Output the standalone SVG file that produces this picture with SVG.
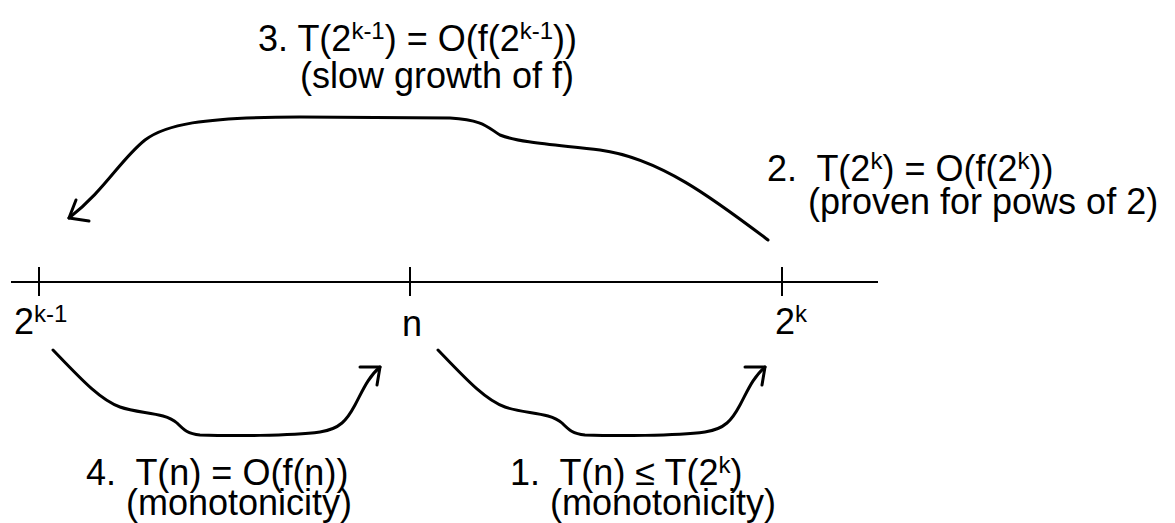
<svg xmlns="http://www.w3.org/2000/svg" width="1175" height="523" viewBox="0 0 1175 523">
<style>
text{font-family:"Liberation Sans",Arial,sans-serif;font-size:36px;fill:#000;white-space:pre}
.sup{font-size:24px}
.ln{fill:none;stroke:#000;stroke-width:3;stroke-linecap:round;stroke-linejoin:round}
.ax{fill:none;stroke:#000;stroke-width:2}
</style>
<rect width="1175" height="523" fill="#fff"/>
<g id="axis">
<line class="ax" x1="11" y1="282" x2="878" y2="282"/>
<line class="ax" x1="39" y1="267" x2="39" y2="296"/>
<line class="ax" x1="410" y1="267" x2="410" y2="296"/>
<line class="ax" x1="782" y1="267" x2="782" y2="296"/>
</g>
<g id="node-2k1"><text x="14" y="334">2<tspan class="sup" dy="-12">k-1</tspan></text></g>
<g id="node-n"><text x="402" y="336">n</text></g>
<g id="node-2k"><text x="775" y="334">2<tspan class="sup" dy="-12">k</tspan></text></g>
<g id="label3">
<text x="258" y="51">3. T(2<tspan class="sup" dy="-12">k-1</tspan><tspan dy="12">) = O(f(2</tspan><tspan class="sup" dy="-12">k-1</tspan><tspan dy="12">))</tspan></text>
<text x="300" y="88">(slow growth of f)</text>
</g>
<g id="label2">
<text x="767" y="181" xml:space="preserve">2.  T(2<tspan class="sup" dy="-12">k</tspan><tspan dy="12">) = O(f(2</tspan><tspan class="sup" dy="-12">k</tspan><tspan dy="12">))</tspan></text>
<text x="808" y="214">(proven for pows of 2)</text>
</g>
<g id="label4">
<text x="86" y="485" xml:space="preserve">4.  T(n) = O(f(n))</text>
<text x="126" y="515">(monotonicity)</text>
</g>
<g id="label1">
<text x="510" y="485" xml:space="preserve">1.  T(n) ≤ T(2<tspan class="sup" dy="-12">k</tspan><tspan dy="12">)</tspan></text>
<text x="550" y="515">(monotonicity)</text>
</g>
<g id="connectors">
<path class="ln" d="M768,240 C715,200 660,158 600,150 C560,145 520,143 500,135 C488,128 485,120 450,118 L300,117 C200,117 165,125 145,140 C120,160 105,190 69,218"/>
<path class="ln" d="M69,218 L76,200 M69,218 L89,221"/>
<g id="c4">
<path class="ln" d="M53,350 C80,378 100,400 120,407 C140,414 165,412 177,423 C184,430 188,434 200,435 C230,436 290,436 320,432 C340,429 347,420 355,405 C362,392 368,377 380,367"/>
<path class="ln" d="M380,367 L360,367 M380,367 L377,385"/>
</g>
<g id="c1" transform="translate(385,0)">
<path class="ln" d="M53,350 C80,378 100,400 120,407 C140,414 165,412 177,423 C184,430 188,434 200,435 C230,436 290,436 320,432 C340,429 347,420 355,405 C362,392 368,377 380,367"/>
<path class="ln" d="M380,367 L360,367 M380,367 L377,385"/>
</g>
</g>
</svg>
